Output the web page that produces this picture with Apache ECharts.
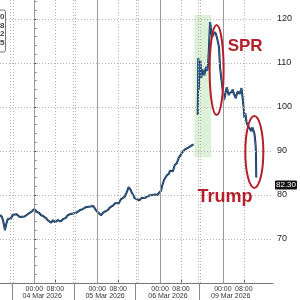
<!DOCTYPE html>
<html>
<head>
<meta charset="utf-8">
<script src="https://cdn.jsdelivr.net/npm/echarts@6/dist/echarts.min.js"></script>
<style>html,body{margin:0;padding:0;background:#fff}#c{width:300px;height:300px}</style>
</head>
<body>
<div id="c"></div>
<script>
// hours relative to 04 Mar 2026 00:00 (trading-time axis, weekend removed)
const times = [-13.1,-12.4,-12.0,-11.6,-11.25,-10.9,-10.5,-10.1,-9.4,-9.0,-8.25,-7.5,-6.75,-5.6,-4.9,-3.75,-3.0,-1.9,-1.1,-0.4,0,0.4,1.1,1.9,2.6,3.4,4.5,5.25,6.0,6.4,7.1,7.9,8.25,9.0,10.1,10.9,12.0,12.75,13.9,14.6,15.75,16.5,17.6,18.4,19.1,19.9,20.6,21.4,22.5,23.25,24.0,24.75,25.5,26.25,27.0,28.1,28.9,30.0,30.75,31.5,32.25,33.0,33.75,34.5,35.25,36.0,36.75,37.1,37.9,38.25,39.0,40.1,40.9,41.6,42.4,43.1,43.9,45.0,46.1,46.9,47.6,48.4,48.75,49.5,49.9,50.6,51.0,51.4,51.75,52.5,52.9,53.6,54.0,54.4,55.1,55.5,56.25,57.0,57.4,58.1,58.9,59.6,60.4,60.75,
  61.5,
  62.4,62.6,62.8,63.0,63.4,63.75,64.1,64.5,64.9,65.25,65.6,66.0,66.4,66.75,67.1,67.5,67.9,68.25,68.6,69.0,69.4,69.75,70.1,70.5,70.9,71.25,71.6,72.0,72.4,72.75,73.1,73.5,73.9,74.25,74.6,75.0,75.4,75.75,76.1,76.5,76.9,77.25,77.6,78.0,78.4,78.75,79.1,79.5,79.9,80.25,80.6,81.0,81.4,81.75,82.1,82.5,82.9,83.25,83.6,84.0,84.4,84.6,84.75];
const prices = [75.5,75.0,74.3,73.2,72.0,73.0,73.9,74.6,75.0,74.6,75.5,75.1,75.6,75.0,75.4,75.1,75.5,75.9,76.2,76.6,76.8,77.0,76.1,75.9,75.4,75.2,74.7,74.2,74.0,73.7,74.3,73.8,74.2,74.3,74.0,74.5,74.8,75.4,75.7,75.4,75.9,76.3,76.6,76.8,77.1,77.3,77.1,77.4,77.5,76.8,76.2,75.8,75.4,76.0,76.4,76.6,77.2,77.6,78.1,78.4,78.1,79.0,79.3,79.6,80.6,81.8,81.2,80.7,79.8,79.3,79.0,78.8,79.3,79.6,79.4,79.8,79.9,80.0,80.1,80.0,80.3,81.0,82.0,83.4,83.0,84.5,84.1,84.8,85.5,85.7,85.4,86.8,86.4,87.2,88.4,88.0,89.5,89.8,90.3,90.0,90.8,91.0,91.4,91.5,
  null,
  98.2,111.1,104.0,109.1,110.5,106.6,108.5,108.0,107.2,108.4,109.1,108.2,110.0,114.5,119.3,117.5,115.9,116.4,116.8,117.0,116.5,115.7,114.8,113.6,109.1,107.2,105.5,103.5,101.6,102.3,103.6,104.5,103.4,102.7,103.2,102.8,103.4,104.0,103.2,102.6,102.0,102.8,103.5,103.9,103.0,103.6,104.3,102.2,100.0,97.5,98.5,96.6,95.9,95.6,95.2,94.8,94.5,95.4,95.2,94.1,92.0,90.0,84.0,82.3];
const lastPrice = 82.30;
const yTicks = [70, 80, 90, 100, 110, 120];
const midnights = [0, 24, 48, 72];
const mornings = [8, 32, 56, 80];
const sessionBreaks = [-9.25, -8.25, 14.75, 15.75, 38.75, 39.75, 62.5, 63.5];
const dateSeparators = [-8.6, 15.1, 38.6, 63.0];
const timeTickLabels = { 0: '00:00', 8: '08:00' };
const dateCenters = [3, 27, 51, 75];
const dateLabels = ['04 Mar 2026', '05 Mar 2026', '06 Mar 2026', '09 Mar 2026'];
const sprWindow = [[61.1, 88.6], [67.5, 120.9]];
const legendBoxValues = ['100.00', '92.58', '90.22', '95.25'];

const FONT = 'Liberation Sans, Arial, sans-serif';
const XMIN = -13.125, XMAX = 91.125, YMIN = 60, YMAX = 124.32;
const data = times.map((t, i) => [t, prices[i]]);
const allTimeTicks = midnights.concat(mornings).sort((a, b) => a - b);

const chart = echarts.init(document.getElementById('c'), null, { renderer: 'canvas' });

const vLines = [];
midnights.forEach(v => vLines.push({ xAxis: v, lineStyle: { type: 'solid', color: '#9a9a9a', width: 1 } }));
mornings.forEach(v => vLines.push({ xAxis: v, lineStyle: { type: [1, 2], color: '#b5b5b5', width: 1 } }));
sessionBreaks.forEach(v => vLines.push({ xAxis: v, lineStyle: { type: [1, 2], color: '#b5b5b5', width: 1 } }));

chart.setOption({
  animation: false,
  grid: { left: 0, right: 22, top: 0, bottom: 17, containLabel: false },
  xAxis: [
    {
      type: 'value', min: XMIN, max: XMAX,
      axisLine: { show: true, lineStyle: { color: '#777', width: 1 } },
      splitLine: { show: false },
      axisTick: { show: true, inside: true, length: 3, customValues: allTimeTicks, lineStyle: { color: '#555' } },
      axisLabel: {
        show: true, customValues: allTimeTicks, margin: 3, fontSize: 7, color: '#333', fontFamily: FONT,
        formatter: v => timeTickLabels[((v % 24) + 24) % 24]
      }
    },
    {
      type: 'value', min: XMIN, max: XMAX, position: 'bottom',
      axisLine: { show: false },
      splitLine: { show: false },
      axisTick: { show: true, inside: false, length: 17, customValues: dateSeparators, lineStyle: { color: '#888' } },
      axisLabel: {
        show: true, customValues: dateCenters, margin: 10, fontSize: 7, color: '#333', fontFamily: FONT,
        formatter: v => dateLabels[dateCenters.indexOf(v)]
      }
    }
  ],
  yAxis: [
    {
      type: 'value', position: 'right', min: YMIN, max: YMAX, interval: 10,
      axisLine: { show: true, lineStyle: { color: '#666' } },
      axisTick: { show: true, length: 3, customValues: yTicks, lineStyle: { color: '#333' } },
      minorTick: { show: true, splitNumber: 5, length: 2, lineStyle: { color: '#666' } },
      axisLabel: { customValues: yTicks, margin: 4, fontSize: 9, color: '#222', fontFamily: FONT },
      splitLine: { show: false }
    },
    {
      type: 'value', position: 'right', min: YMIN, max: YMAX,
      axisLine: { show: false }, axisTick: { show: false }, splitLine: { show: false },
      axisLabel: {
        customValues: [lastPrice], margin: 2, fontSize: 8, color: '#fff', fontFamily: FONT,
        backgroundColor: '#111', padding: [1, 1, 0, 1], borderRadius: 1,
        formatter: v => v.toFixed(2)
      }
    }
  ],
  series: [
    {
      type: 'line', data: [], silent: true,
      markArea: {
        silent: true, itemStyle: { color: 'rgba(196,232,188,0.6)' },
        data: [[{ xAxis: sprWindow[0][0], yAxis: sprWindow[0][1] }, { xAxis: sprWindow[1][0], yAxis: sprWindow[1][1] }]]
      },
      markLine: {
        silent: true, symbol: 'none', label: { show: false },
        data: yTicks.map(v => ({ yAxis: v, lineStyle: { type: [1, 2], color: '#b5b5b5', width: 1 } })).concat(vLines)
      }
    },
    {
      type: 'line', data: data, showSymbol: false, connectNulls: false, silent: true,
      lineStyle: { color: '#14263d', width: 2 }
    },
    {
      type: 'line', data: data, showSymbol: false, connectNulls: false, silent: true,
      lineStyle: { color: '#3b79b8', width: 0.8 }
    }
  ]
});

// annotations anchored to data coordinates
const p = (t, v) => chart.convertToPixel({ xAxisIndex: 0, yAxisIndex: 0 }, [t, v]);
const sprC = p(69.6, 108.4), trumpC = p(84.0, 89.8);
const sprTxt = p(80.5, 113.9), trumpTxt = p(72.8, 79.6);
const RED = '#b3202a';
const boxEls = legendBoxValues.map((s, i) => ({
  type: 'text', x: 4.5, y: 13 + i * 8.6,
  style: { text: s, fontSize: 8, fontWeight: 'bold', fill: '#444', align: 'right', fontFamily: FONT }
}));
chart.setOption({
  graphic: [
    { type: 'rect', shape: { x: -40, y: 10, width: 45.5, height: 42, r: 2 }, style: { fill: '#fff', stroke: '#777', lineWidth: 1 }, z: 50 },
    ...boxEls.map(e => Object.assign(e, { z: 51 })),
    { type: 'ellipse', shape: { cx: sprC[0], cy: sprC[1], rx: 7, ry: 45 }, style: { fill: 'none', stroke: RED, lineWidth: 2 }, z: 60 },
    { type: 'ellipse', shape: { cx: trumpC[0], cy: trumpC[1], rx: 9, ry: 36 }, style: { fill: 'none', stroke: RED, lineWidth: 2 }, z: 60 },
    { type: 'text', x: sprTxt[0], y: sprTxt[1], style: { text: 'SPR', fontSize: 17, fontWeight: 'bold', fill: RED, align: 'center', verticalAlign: 'middle', fontFamily: FONT }, z: 60 },
    { type: 'text', x: trumpTxt[0], y: trumpTxt[1], style: { text: 'Trump', fontSize: 18, fontWeight: 'bold', fill: RED, align: 'center', verticalAlign: 'middle', fontFamily: FONT }, z: 60 }
  ]
});
</script>
</body>
</html>
